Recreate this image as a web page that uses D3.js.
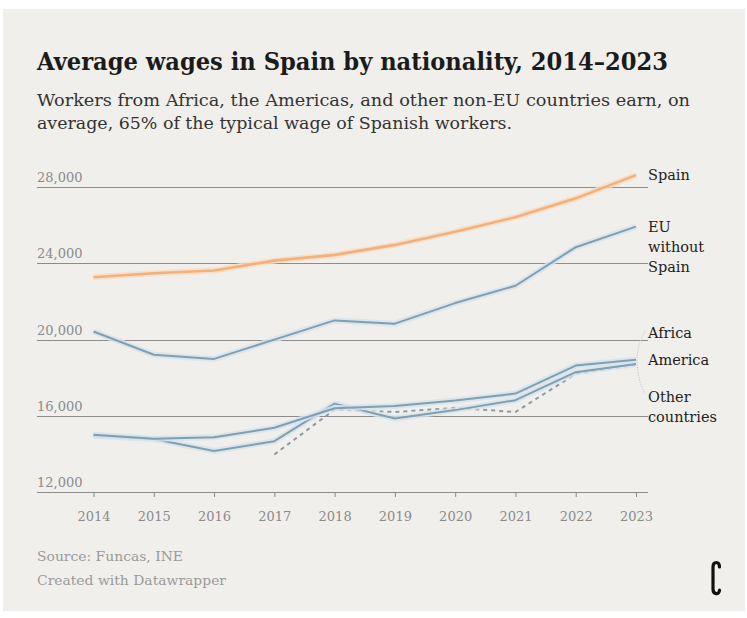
<!DOCTYPE html>
<html>
<head>
<meta charset="utf-8">
<script src="https://cdn.jsdelivr.net/npm/d3@7"></script>
<style>
  body { margin: 0; background: #ffffff; }
  svg { display: block; }
</style>
</head>
<body>
<svg id="chart"></svg>
<script>
const width = 747;
const height = 618;

// values (euros per year)
const years = [2014, 2015, 2016, 2017, 2018, 2019, 2020, 2021, 2022, 2023];
const spain = [23280, 23490, 23630, 24150, 24450, 24975, 25670, 26430, 27420, 28640];
const euWithoutSpain = [20430, 19210, 18990, 20000, 21010, 20840, 21920, 22830, 24855, 25935];
const africa = [15000, 14800, 14880, 15370, 16400, 16520, 16800, 17170, 18640, 18950];
const america = [14950, 14780, 14150, 14670, 16640, 15860, 16300, 16820, 18290, 18720];
const otherCountries = [null, null, null, 13970, 16330, 16200, 16420, 16200, 18200, 18680];
const yTicks = [12000, 16000, 20000, 24000, 28000];

const series = [
    { name: "EU without Spain", values: euWithoutSpain, color: "#7f9fb3", halo: "#d6e4ec", dash: null },
    { name: "Other countries", values: otherCountries, color: "#8d9aa3", halo: null, dash: "4,4" },
    { name: "America", values: america, color: "#7f9fb3", halo: "#d6e4ec", dash: null },
    { name: "Africa", values: africa, color: "#7f9fb3", halo: "#d6e4ec", dash: null },
    { name: "Spain", values: spain, color: "#f2b07c", halo: "#f9dcc2", dash: null }
];

const serif = "'DejaVu Serif', 'Liberation Serif', serif";

const svg = d3.select("#chart")
    .attr("width", width)
    .attr("height", height);

svg.append("rect")
    .attr("x", 3).attr("y", 9)
    .attr("width", 742).attr("height", 602)
    .attr("fill", "#f1efeb");

// header
svg.append("text")
    .attr("x", 37).attr("y", 70)
    .attr("font-family", serif)
    .attr("font-size", 24)
    .attr("font-weight", "bold")
    .attr("fill", "#1b1b1b")
    .attr("textLength", 631)
    .attr("lengthAdjust", "spacingAndGlyphs")
    .text("Average wages in Spain by nationality, 2014\u20132023");

const subtitle = [
    ["Workers from Africa, the Americas, and other non-EU countries earn, on", 106, 653],
    ["average, 65% of the typical wage of Spanish workers.", 129, 475]
];
svg.selectAll(".subtitle")
    .data(subtitle)
    .enter().append("text")
    .attr("class", "subtitle")
    .attr("x", 37)
    .attr("y", d => d[1])
    .attr("font-family", serif)
    .attr("font-size", 16)
    .attr("fill", "#333")
    .attr("textLength", d => d[2])
    .attr("lengthAdjust", "spacingAndGlyphs")
    .text(d => d[0]);

// scales
const x = d3.scaleLinear()
    .domain([2014, 2023])
    .range([93.5, 636]);
const y = d3.scaleLinear()
    .domain([12000, 28000])
    .range([492, 187.3]);

// grid
const grid = svg.append("g");
grid.selectAll("line")
    .data(yTicks)
    .enter().append("line")
    .attr("x1", 37).attr("x2", 648)
    .attr("y1", d => Math.round(y(d)) + 0.5)
    .attr("y2", d => Math.round(y(d)) + 0.5)
    .attr("stroke", "#8c8c8c")
    .attr("stroke-width", 1);

grid.selectAll("text")
    .data(yTicks)
    .enter().append("text")
    .attr("x", 37)
    .attr("y", d => y(d) - 5)
    .attr("font-family", serif)
    .attr("font-size", 13)
    .attr("fill", "#8a8a8a")
    .text(d => d3.format(",")(d));

// x axis ticks and labels
const xAxis = svg.append("g")
    .attr("transform", `translate(0, ${Math.round(y(12000))})`)
    .call(d3.axisBottom(x).tickValues(years).tickFormat(d3.format("d")).tickSize(5).tickPadding(15));
xAxis.select(".domain").remove();
xAxis.selectAll(".tick line").attr("stroke", "#8a8a8a");
xAxis.selectAll(".tick text")
    .attr("font-family", serif)
    .attr("font-size", 13)
    .attr("fill", "#8a8a8a");

// lines
const line = d3.line()
    .defined(d => d.v !== null)
    .x(d => x(d.year))
    .y(d => y(d.v));

const lines = svg.append("g").attr("fill", "none");
series.forEach(s => {
    const pts = years.map((yr, i) => ({ year: yr, v: s.values[i] }));
    if (s.halo) {
        lines.append("path")
            .attr("d", line(pts))
            .attr("stroke", s.halo)
            .attr("stroke-width", 6)
            .attr("stroke-linejoin", "round")
            .attr("opacity", 0.8);
    }
    lines.append("path")
        .attr("d", line(pts))
        .attr("stroke", s.color)
        .attr("stroke-width", s.name === "Spain" ? 2.6 : 2)
        .attr("stroke-linejoin", "round")
        .attr("stroke-dasharray", s.dash);
});

// direct labels
const labels = [
    { lines: ["Spain"], y: 175 },
    { lines: ["EU", "without", "Spain"], y: 227 },
    { lines: ["Africa"], y: 333 },
    { lines: ["America"], y: 360 },
    { lines: ["Other", "countries"], y: 397 }
];
const lab = svg.append("g")
    .attr("font-family", serif)
    .attr("font-size", 14.5)
    .attr("fill", "#222");
labels.forEach(l => {
    l.lines.forEach((t, i) => {
        lab.append("text")
            .attr("x", 648)
            .attr("y", l.y + i * 20 + 5)
            .text(t);
    });
});

// connector from the clustered line ends to the Africa / Other labels
const endY = y(africa[africa.length - 1]);
svg.append("path")
    .attr("d", `M645,331 C640,340 637,350 ${x(2023) + 1},${endY} C637,372 640,385 645,394`)
    .attr("fill", "none")
    .attr("stroke", "#b9c3c9")
    .attr("stroke-width", 1)
    .attr("stroke-dasharray", "1,1.5");

// footer
const footer = [["Source: Funcas, INE", 561, 146], ["Created with Datawrapper", 585, 189]];
svg.selectAll(".footer")
    .data(footer)
    .enter().append("text")
    .attr("class", "footer")
    .attr("x", 37)
    .attr("y", d => d[1])
    .attr("font-family", serif)
    .attr("font-size", 12.5)
    .attr("fill", "#9a9a9a")
    .attr("textLength", d => d[2])
    .attr("lengthAdjust", "spacingAndGlyphs")
    .text(d => d[0]);

// logo mark
svg.append("path")
    .attr("d", "M719.5,567 C719.5,561 713,561 713,567 L713,589 C713,595 719.5,595 719.5,590")
    .attr("fill", "none")
    .attr("stroke", "#111")
    .attr("stroke-width", 3.2)
    .attr("stroke-linecap", "round");
</script>
</body>
</html>
